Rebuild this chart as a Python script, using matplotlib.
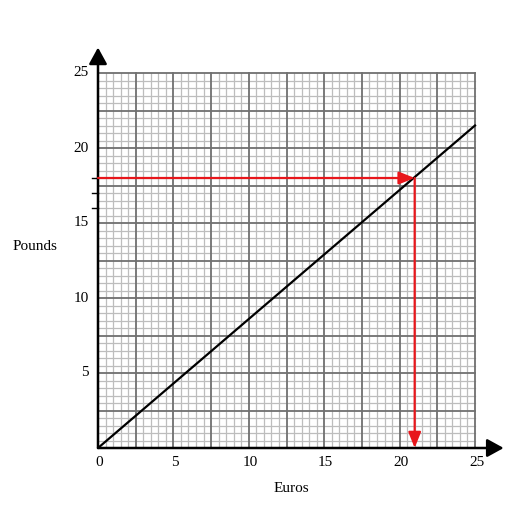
import numpy as np
import matplotlib
matplotlib.use("Agg")
import matplotlib.pyplot as plt

# conversion line (euros -> pounds)
euros = [0, 25]
pounds = [0, 21.5]

# reading taken off the graph
read_pounds = 18
read_euros = 21

x_ticks = [0, 5, 10, 15, 20, 25]
y_ticks = [5, 10, 15, 20, 25]
y_small_ticks = [16, 17, 18]

plt.rcParams['font.family'] = ['Liberation Serif', 'DejaVu Serif']

fig = plt.figure(figsize=(5.29, 5.29), dpi=100)
px = 15.08
py = 15.0
xmax, ymax = 27.5, 27.5
ax = fig.add_axes([98 / 529, 81 / 529, xmax * px / 529, ymax * py / 529])
ax.set_xlim(0, xmax)
ax.set_ylim(0, ymax)
ax.axis('off')

# graph paper
fine = np.arange(0, 25.01, 0.5)
for v in fine:
    major = abs(v / 2.5 - round(v / 2.5)) < 1e-6
    col = '#707070' if major else '#bdbdbd'
    lw = 1.3 if major else 0.9
    z = 2 if major else 1
    ax.plot([v, v], [0, 25], color=col, lw=lw, zorder=z)
    ax.plot([0, 25], [v, v], color=col, lw=lw, zorder=z)

# axes with arrows
ax.annotate('', xy=(26.9, 0), xytext=(0, 0),
            arrowprops=dict(arrowstyle='-|>,head_length=1.0,head_width=0.55',
                            color='black', lw=1.8, shrinkA=0, shrinkB=0), zorder=5)
ax.annotate('', xy=(0, 26.7), xytext=(0, 0),
            arrowprops=dict(arrowstyle='-|>,head_length=1.0,head_width=0.55',
                            color='black', lw=1.8, shrinkA=0, shrinkB=0), zorder=5)

# conversion line
ax.plot(euros, pounds, color='black', lw=1.6, zorder=4)

# reading arrows
ax.annotate('', xy=(read_euros, read_pounds), xytext=(0, read_pounds),
            arrowprops=dict(arrowstyle='-|>,head_length=0.95,head_width=0.38',
                            color='#e8161b', lw=1.6, shrinkA=0, shrinkB=0), zorder=6)
ax.annotate('', xy=(read_euros, 0), xytext=(read_euros, read_pounds),
            arrowprops=dict(arrowstyle='-|>,head_length=0.95,head_width=0.38',
                            color='#e8161b', lw=1.6, shrinkA=0, shrinkB=0), zorder=6)

# tick labels
for t in x_ticks:
    ax.text(t + 0.1, -0.5, str(t), ha='center', va='top', fontsize=11, clip_on=False)
for t in y_ticks:
    ax.text(-0.6, t, str(t), ha='right', va='center', fontsize=11, clip_on=False)
for t in y_small_ticks:
    ax.plot([-0.4, 0], [t, t], color='black', lw=1.0, clip_on=False, zorder=5)

ax.text(-4.2, 13.4, 'Pounds', ha='center', va='center', fontsize=11, clip_on=False)
ax.text(12.8, -2.7, 'Euros', ha='center', va='center', fontsize=11, clip_on=False)

fig.savefig('out.png', dpi=100)
